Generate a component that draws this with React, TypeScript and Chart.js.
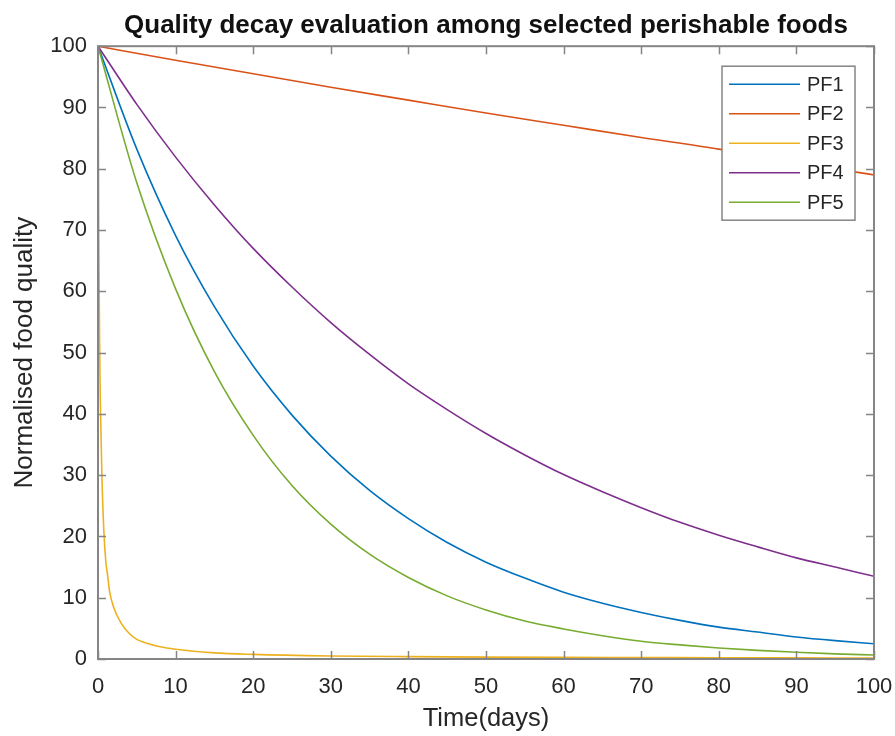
import React, { useEffect, useRef } from 'react';
import { Chart, registerables } from 'chart.js';

Chart.register(...registerables);

const FONT = '"Liberation Sans", Arial, Helvetica, sans-serif';
const AXIS_COLOR = '#858585';
const TEXT_COLOR = '#262626';

const titleText = 'Quality decay evaluation among selected perishable foods';
const xAxisTitle = 'Time(days)';
const yAxisTitle = 'Normalised food quality';

const seriesLabels = ['PF1', 'PF2', 'PF3', 'PF4', 'PF5'];
const seriesColors = ['#0072BD', '#D95319', '#EDB120', '#7E2F8E', '#77AC30'];

// sample days (every 5 days) used by PF1, PF4, PF5
const days5 = [0, 5, 10, 15, 20, 25, 30, 35, 40, 45, 50, 55, 60, 65, 70, 75, 80, 85, 90, 95, 100];
const pf1 = [100, 83.2, 69.1, 57.5, 47.8, 39.8, 33.1, 27.5, 22.9, 19.0, 15.8, 13.2, 10.9, 9.1, 7.6, 6.3, 5.2, 4.4, 3.6, 3.0, 2.5];
const pf4 = [100, 90.5, 81.9, 74.1, 67, 60.7, 54.9, 49.7, 44.9, 40.7, 36.8, 33.3, 30.1, 27.3, 24.7, 22.3, 20.2, 18.3, 16.5, 15, 13.5];
const pf5 = [100, 77.7, 60.4, 46.9, 36.5, 28.3, 22.0, 17.1, 13.3, 10.3, 8.0, 6.2, 4.9, 3.8, 2.9, 2.3, 1.8, 1.4, 1.1, 0.84, 0.65];

const pf2Days = [0, 10, 20, 30, 40, 50, 60, 70, 80, 90, 100];
const pf2 = [100, 97.7, 95.5, 93.3, 91.2, 89.1, 87.1, 85.1, 83.2, 81.0, 79.0];

const pf3Days = [0, 0.1, 0.2, 0.3, 0.5, 0.75, 1, 1.25, 1.5, 2, 3, 4, 5, 6, 8, 10, 15, 20, 30, 40, 50, 60, 70, 80, 90, 100];
const pf3 = [100, 70, 52, 42, 30, 21, 16, 13.5, 11, 8.5, 5.8, 4.2, 3.2, 2.7, 2.0, 1.6, 1.0, 0.75, 0.5, 0.38, 0.3, 0.26, 0.23, 0.2, 0.18, 0.16];

const xTickStep = 10;
const yTickStep = 10;

const seriesX = [days5, pf2Days, pf3Days, days5, days5];
const seriesY = [pf1, pf2, pf3, pf4, pf5];

const TICK_LEN = 8;

const axesPlugin = {
  id: 'matlabAxes',
  afterDatasetsDraw(chart: any) {
    const { ctx, chartArea: a, scales } = chart;
    ctx.save();
    ctx.strokeStyle = AXIS_COLOR;
    ctx.lineWidth = 1.5;
    ctx.beginPath();
    for (const t of scales.x.ticks) {
      const px = Math.round(scales.x.getPixelForValue(t.value)) + 0.5;
      ctx.moveTo(px, a.bottom);
      ctx.lineTo(px, a.bottom - TICK_LEN);
      ctx.moveTo(px, a.top);
      ctx.lineTo(px, a.top + TICK_LEN);
    }
    for (const t of scales.y.ticks) {
      const py = Math.round(scales.y.getPixelForValue(t.value)) + 0.5;
      ctx.moveTo(a.left, py);
      ctx.lineTo(a.left + TICK_LEN, py);
      ctx.moveTo(a.right, py);
      ctx.lineTo(a.right - TICK_LEN, py);
    }
    ctx.stroke();
    ctx.lineWidth = 2;
    ctx.strokeRect(a.left, a.top, a.right - a.left, a.bottom - a.top);
    ctx.restore();
  },
};

const legendPlugin = {
  id: 'matlabLegend',
  afterDraw(chart: any) {
    const { ctx, chartArea: a } = chart;
    const right = a.right - 19;
    const top = a.top + 20;
    const w = 133;
    const h = 154;
    const left = right - w;
    ctx.save();
    ctx.fillStyle = '#ffffff';
    ctx.fillRect(left, top, w, h);
    ctx.strokeStyle = AXIS_COLOR;
    ctx.lineWidth = 1.5;
    ctx.strokeRect(left, top, w, h);
    ctx.font = `20px ${FONT}`;
    ctx.textBaseline = 'middle';
    ctx.textAlign = 'left';
    chart.data.datasets.forEach((ds: any, i: number) => {
      const y = top + 18 + i * 29.5;
      ctx.strokeStyle = ds.borderColor;
      ctx.lineWidth = 1.6;
      ctx.beginPath();
      ctx.moveTo(left + 7, y);
      ctx.lineTo(left + 78, y);
      ctx.stroke();
      ctx.fillStyle = TEXT_COLOR;
      ctx.fillText(ds.label, left + 85, y + 1);
    });
    ctx.restore();
  },
};

export default function App() {
  const ref = useRef<HTMLCanvasElement>(null);

  useEffect(() => {
    document.body.style.margin = '0';
    const datasets = seriesLabels.map((label, i) => ({
      label,
      data: seriesX[i].map((x, j) => ({ x, y: seriesY[i][j] })),
      borderColor: seriesColors[i],
      backgroundColor: seriesColors[i],
      borderWidth: 1.6,
      pointRadius: 0,
      fill: false,
      cubicInterpolationMode: 'monotone' as const,
      order: seriesLabels.length - i,
    }));

    const chart = new Chart(ref.current!, {
      type: 'line',
      data: { datasets },
      options: {
        animation: false,
        responsive: false,
        devicePixelRatio: 1,
        layout: { padding: { left: 0, right: 21, top: 0, bottom: 0 } },
        plugins: {
          legend: { display: false },
          tooltip: { enabled: false },
          title: {
            display: true,
            fullSize: false,
            text: titleText,
            color: '#111111',
            font: { family: FONT, size: 26, weight: 'bold' },
            padding: { top: 10, bottom: 5 },
          },
        },
        scales: {
          x: {
            type: 'linear',
            min: 0,
            max: 100,
            grid: { display: false, drawTicks: false },
            border: { display: false },
            ticks: {
              stepSize: xTickStep,
              autoSkip: false,
              maxRotation: 0,
              color: TEXT_COLOR,
              font: { family: FONT, size: 22 },
              padding: 15,
            },
            title: {
              display: true,
              text: xAxisTitle,
              color: TEXT_COLOR,
              font: { family: FONT, size: 25.5 },
              padding: { top: 0, bottom: 2 },
            },
            afterFit(scale: any) {
              scale.height = 77;
              scale.paddingRight = 0;
              scale.paddingLeft = 0;
            },
          },
          y: {
            type: 'linear',
            min: 0,
            max: 100,
            grid: { display: false, drawTicks: false },
            border: { display: false },
            ticks: {
              stepSize: yTickStep,
              autoSkip: false,
              color: TEXT_COLOR,
              font: { family: FONT, size: 22 },
              padding: 11,
            },
            title: {
              display: true,
              text: yAxisTitle,
              color: TEXT_COLOR,
              font: { family: FONT, size: 26 },
              padding: { top: 9, bottom: 0 },
            },
            afterFit(scale: any) {
              scale.width = 98;
            },
          },
        },
      },
      plugins: [axesPlugin, legendPlugin],
    });
    return () => chart.destroy();
  }, []);

  return (
    <div style={{ position: 'absolute', left: 0, top: 0, width: 895, height: 736, background: '#ffffff' }}>
      <canvas ref={ref} width={895} height={736} style={{ display: 'block', width: 895, height: 736 }} />
    </div>
  );
}
